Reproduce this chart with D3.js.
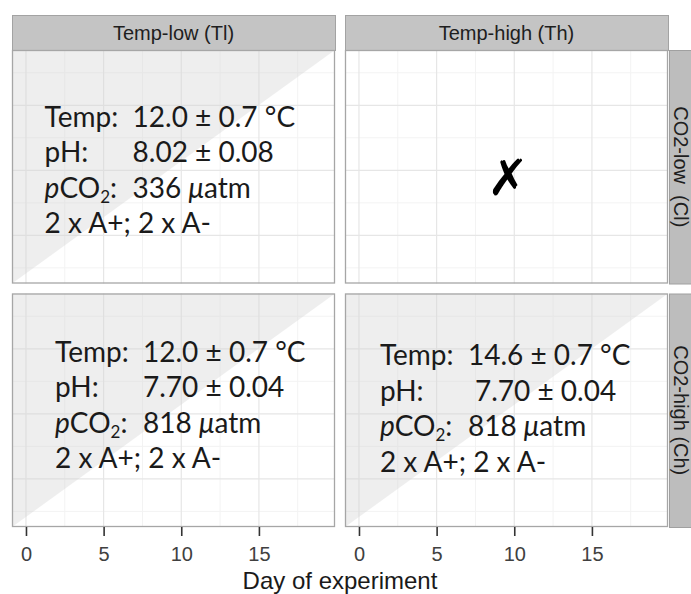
<!DOCTYPE html>
<html>
<head>
<meta charset="utf-8">
<script src="https://cdn.jsdelivr.net/npm/d3@7"></script>
<style>
  html, body { margin: 0; padding: 0; background: #fff; }
  svg { display: block; }
</style>
</head>
<body>
<svg id="chart" width="691" height="594"></svg>
<script>
// ---------------- data ----------------
const colLabels = ["Temp-low (Tl)", "Temp-high (Th)"];
const rowLabels = ["CO2-low  (Cl)", "CO2-high (Ch)"];
const xTicks = [0, 5, 10, 15];
const xMinorTicks = [2.5, 7.5, 12.5, 17.5];
const yMajorTicks = [1, 2, 3];
const yMinorTicks = [0.5, 1.5, 2.5, 3.5];
const xDomain = [-0.9, 19.9];
const yDomain = [0.26, 3.85];
const xTitle = "Day of experiment";

// shaded panels (row, col)
const shadedRows = [0, 1, 1];
const shadedCols = [0, 0, 1];

// annotation text blocks
const annRows = [0, 1, 1];
const annCols = [0, 0, 1];
const annX = [1.2, 1.87, 1.35];
const annY = [2.67, 2.8, 2.75];
const tempValues = ["12.0 ± 0.7 °C", "12.0 ± 0.7 °C", "14.6 ± 0.7 °C"];
const phValues = ["8.02 ± 0.08", "7.70 ± 0.04", "7.70 ± 0.04"];
const pco2Values = ["336", "818", "818"];
const replicateText = ["2 x A+; 2 x A-", "2 x A+; 2 x A-", "2 x A+; 2 x A-"];

// missing-treatment mark
const missRows = [0];
const missCols = [1];
const missX = [9.6];
const missY = [1.89];

// ---------------- layout ----------------
const colX = [12, 345];
const rowY = [50, 293.5];
const panelW = 323, panelH = 233.5;
const stripTop = 15, stripH = 35;
const rightStripX = 669, rightStripW = 30;

const svg = d3.select("#chart");
const x = d3.scaleLinear().domain(xDomain).range([0, panelW]);
const y = d3.scaleLinear().domain(yDomain).range([panelH, 0]);

const annFont = "Lato, 'Open Sans', sans-serif";
const axFont = "'Liberation Sans', Arial, sans-serif";

// strips top
colLabels.forEach((lab, c) => {
  const g = svg.append("g").attr("transform", `translate(${colX[c]},${stripTop})`);
  g.append("rect").attr("x", 0.5).attr("y", 0.5).attr("width", panelW).attr("height", stripH)
    .attr("fill", "#c4c4c4").attr("stroke", "#a3a3a3").attr("stroke-width", 1);
  g.append("text").attr("x", panelW / 2).attr("y", stripH / 2).attr("dy", "0.36em")
    .attr("text-anchor", "middle").attr("font-family", axFont).attr("font-size", 20)
    .attr("fill", "#1e1e1e").text(lab);
});

// strips right
rowLabels.forEach((lab, r) => {
  const g = svg.append("g").attr("transform", `translate(${rightStripX},${rowY[r]})`);
  g.append("rect").attr("x", 0.5).attr("y", 0.5).attr("width", rightStripW).attr("height", panelH)
    .attr("fill", "#bdbdbd").attr("stroke", "#a0a0a0").attr("stroke-width", 1);
  g.append("text")
    .attr("transform", `translate(12,${panelH / 2}) rotate(90)`)
    .attr("dy", "0.36em").attr("text-anchor", "middle")
    .attr("font-family", axFont).attr("font-size", 20).attr("fill", "#1e1e1e")
    .attr("xml:space", "preserve").style("white-space", "pre").text(lab);
});

// panels
const panels = {};
[0, 1].forEach(r => [0, 1].forEach(c => {
  const g = svg.append("g").attr("transform", `translate(${colX[c]},${rowY[r]})`);
  panels[r + "-" + c] = g;
  g.append("rect").attr("width", panelW).attr("height", panelH).attr("fill", "#ffffff");
  g.selectAll(".vmin").data(xMinorTicks).join("line")
    .attr("x1", d => x(d)).attr("x2", d => x(d)).attr("y1", 0).attr("y2", panelH)
    .attr("stroke", "#f3f3f3").attr("stroke-width", 1);
  g.selectAll(".hmin").data(yMinorTicks).join("line")
    .attr("y1", d => y(d)).attr("y2", d => y(d)).attr("x1", 0).attr("x2", panelW)
    .attr("stroke", "#f3f3f3").attr("stroke-width", 1);
  g.selectAll(".vmaj").data(xTicks).join("line")
    .attr("x1", d => x(d)).attr("x2", d => x(d)).attr("y1", 0).attr("y2", panelH)
    .attr("stroke", "#e6e6e6").attr("stroke-width", 1.2);
  g.selectAll(".hmaj").data(yMajorTicks).join("line")
    .attr("y1", d => y(d)).attr("y2", d => y(d)).attr("x1", 0).attr("x2", panelW)
    .attr("stroke", "#e6e6e6").attr("stroke-width", 1.2);
}));

// shaded triangles (upper-left half)
shadedRows.forEach((r, i) => {
  const g = panels[r + "-" + shadedCols[i]];
  const pts = [[xDomain[0], yDomain[0]], [xDomain[0], yDomain[1]], [xDomain[1], yDomain[1]]];
  g.append("path")
    .attr("d", d3.line().x(d => x(d[0])).y(d => y(d[1]))(pts) + "Z")
    .attr("fill", "#d4d4d4").attr("fill-opacity", 0.4);
});

// panel borders
[0, 1].forEach(r => [0, 1].forEach(c => {
  panels[r + "-" + c].append("rect").attr("x", 0.5).attr("y", 0.5)
    .attr("width", panelW - 1).attr("height", panelH - 1)
    .attr("fill", "none").attr("stroke", "#a6a6a6").attr("stroke-width", 1.3);
}));

// annotations
const lineGap = 35.5, valOff = 88;
annRows.forEach((r, i) => {
  const g = panels[r + "-" + annCols[i]];
  const t = g.append("g").attr("transform", `translate(${x(annX[i])},${y(annY[i])})`)
    .attr("font-family", annFont).attr("font-size", 28).attr("fill", "#1a1a1a");
  const l1 = t.append("text").attr("x", 0).attr("y", 0);
  l1.append("tspan").text("Temp:");
  l1.append("tspan").attr("x", valOff).text(tempValues[i]);
  const l2 = t.append("text").attr("x", 0).attr("y", lineGap);
  l2.append("tspan").text("pH:");
  l2.append("tspan").attr("x", valOff + (i === 2 ? 7 : 0)).text(phValues[i]);
  const l3 = t.append("text").attr("x", 0).attr("y", lineGap * 2);
  l3.append("tspan").attr("font-style", "italic").text("p");
  l3.append("tspan").text("CO");
  l3.append("tspan").attr("font-size", 17).attr("dy", 5).text("2");
  l3.append("tspan").attr("dy", -5).text(":");
  l3.append("tspan").attr("x", valOff).text(pco2Values[i] + " ");
  l3.append("tspan").attr("font-style", "italic").text("μ");
  l3.append("tspan").text("atm");
  t.append("text").attr("x", 0).attr("y", lineGap * 3).text(replicateText[i]);
});

// missing mark
missRows.forEach((r, i) => {
  const g = panels[r + "-" + missCols[i]];
  g.append("text").attr("x", x(missX[i])).attr("y", y(missY[i]))
    .attr("text-anchor", "middle").attr("dy", "0.35em")
    .attr("font-family", "'DejaVu Sans', sans-serif").attr("font-size", 50)
    .attr("font-weight", "bold").attr("fill", "#000").text("✗");
});

// x axes
[0, 1].forEach(c => {
  const ax = svg.append("g").attr("transform", `translate(${colX[c]},${rowY[1] + panelH})`)
    .call(d3.axisBottom(x).tickValues(xTicks).tickSize(9).tickPadding(11).tickFormat(d3.format("d")));
  ax.select(".domain").remove();
  ax.selectAll(".tick line").attr("stroke", "#333").attr("stroke-width", 1.6);
  ax.selectAll(".tick text").attr("font-family", axFont).attr("font-size", 20).attr("fill", "#404040");
});

// axis title
svg.append("text").attr("x", (colX[0] + colX[1] + panelW) / 2).attr("y", 589)
  .attr("text-anchor", "middle").attr("font-family", axFont).attr("font-size", 24)
  .attr("fill", "#1a1a1a").text(xTitle);
</script>
</body>
</html>
